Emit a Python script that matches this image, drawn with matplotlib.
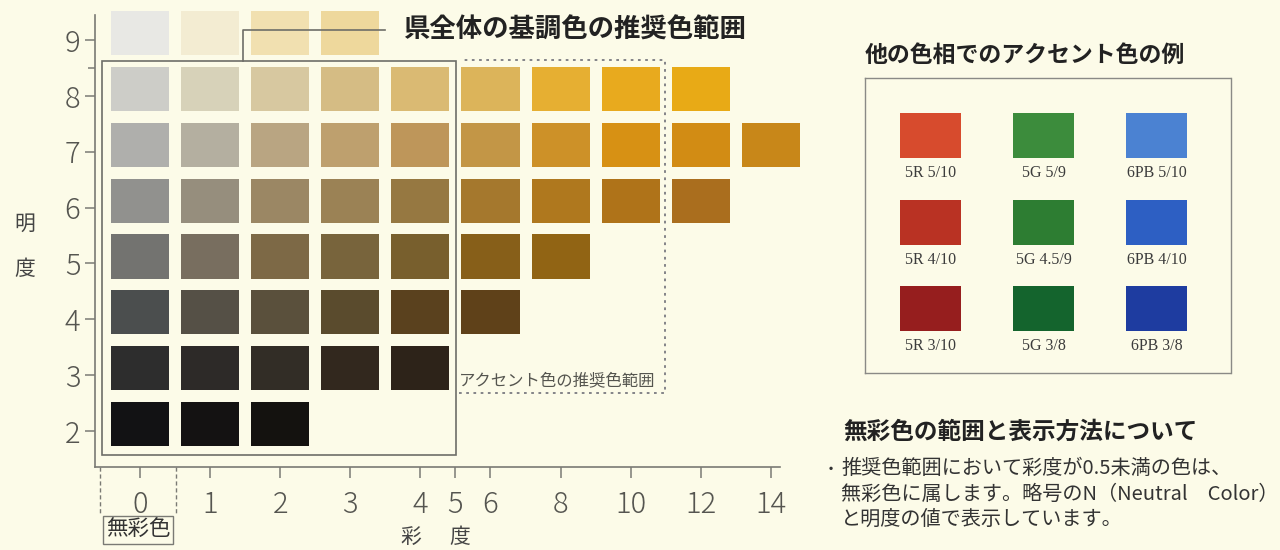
import numpy as np
import matplotlib
matplotlib.use("Agg")
import matplotlib.pyplot as plt

plt.rcParams['font.family'] = ['Noto Sans CJK JP', 'DejaVu Sans']

# 明度 (value) rows with their 彩度 (chroma) steps and swatch colours
chroma_v9 = [0, 1, 2, 3]
colors_v9 = ['#e8e8e4', '#f3ecd2', '#f1e0b0', '#eed89c']
chroma_v8 = [0, 1, 2, 3, 4, 6, 8, 10, 12]
colors_v8 = ['#cdcdc8', '#d7d2b9', '#d7c8a0', '#d5bc84', '#daba73', '#dcb45a',
             '#e6af32', '#e8aa1e', '#e8aa16']
chroma_v7 = [0, 1, 2, 3, 4, 6, 8, 10, 12, 14]
colors_v7 = ['#afafac', '#b4afa0', '#b9a582', '#bea06e', '#be965a', '#c39646',
             '#cd9128', '#d79114', '#d28c14', '#c88719']
chroma_v6 = [0, 1, 2, 3, 4, 6, 8, 10, 12]
colors_v6 = ['#91918e', '#968e7d', '#9b8764', '#9b8255', '#967841', '#a5782d',
             '#af781e', '#af7319', '#aa6e1e']
chroma_v5 = [0, 1, 2, 3, 4, 6, 8]
colors_v5 = ['#737370', '#786e5f', '#7d6946', '#78643c', '#785f2d', '#875f19',
             '#916414']
chroma_v4 = [0, 1, 2, 3, 4, 6]
colors_v4 = ['#4b4e4e', '#555046', '#5a503c', '#5a4b2d', '#5a411e', '#5f4119']
chroma_v3 = [0, 1, 2, 3, 4]
colors_v3 = ['#2d2d2d', '#2d2a28', '#322d26', '#32281e', '#2d2319']
chroma_v2 = [0, 1, 2]
colors_v2 = ['#121214', '#141212', '#14120f']

values = [9, 8, 7, 6, 5, 4, 3, 2]
row_chroma = [chroma_v9, chroma_v8, chroma_v7, chroma_v6,
              chroma_v5, chroma_v4, chroma_v3, chroma_v2]
row_colors = [colors_v9, colors_v8, colors_v7, colors_v6,
              colors_v5, colors_v4, colors_v3, colors_v2]

x_ticks = [0, 1, 2, 3, 4, 5, 6, 8, 10, 12, 14]
y_ticks = [2, 3, 4, 5, 6, 7, 8, 9]

# 他の色相でのアクセント色の例
hues = ['5R', '5G', '6PB']
accent_labels = [['5R 5/10', '5R 4/10', '5R 3/10'],
                 ['5G 5/9', '5G 4.5/9', '5G 3/8'],
                 ['6PB 5/10', '6PB 4/10', '6PB 3/8']]
accent_colors = [['#d74b2d', '#b93223', '#961e1e'],
                 ['#3c8c3c', '#2d7d32', '#14642d'],
                 ['#4b82d2', '#2d5fc3', '#1e3ca0']]

W, H = 1280, 550
BG = '#fcfbe8'
GRAY = '#6e6e68'


def chroma_to_col(c):
    # chroma steps of 1 up to 4, then steps of 2 per column
    return np.interp(c, [0, 4, 14], [0, 4, 9])


def fpos(x, y):
    return x / W, 1 - y / H


fig = plt.figure(figsize=(W / 100, H / 100), dpi=100, facecolor=BG)

ax = fig.add_axes([95 / W, (H - 467) / H, 715 / W, 462 / H])
ax.set_facecolor('none')
ax.set_xlim(-0.642, 9.558)
ax.set_ylim(1.356, 9.627)

for v, cs, cols in zip(values, row_chroma, row_colors):
    ax.bar(chroma_to_col(np.array(cs)), 0.79, width=0.83, bottom=v - 0.27,
           color=cols, linewidth=0)

for s in ['top', 'right']:
    ax.spines[s].set_visible(False)
for s in ['left', 'bottom']:
    ax.spines[s].set_color('#7a7a74')
    ax.spines[s].set_linewidth(1.2)
ax.spines['left'].set_bounds(1.356, 9.45)
ax.spines['bottom'].set_bounds(-0.642, 9.13)

ax.set_xticks(chroma_to_col(np.array(x_ticks)))
ax.set_xticklabels([str(t) for t in x_ticks])
ax.set_yticks(y_ticks)
ax.set_yticks([8.5], minor=True)
ax.tick_params(axis='both', colors='#7a7a74', labelcolor='#555550',
               labelsize=21, length=7, width=1.1)
ax.tick_params(axis='x', length=8, pad=8)
ax.tick_params(axis='y', which='minor', length=5, width=1.1, colors='#7a7a74')
for lab in ax.get_xticklabels() + ax.get_yticklabels():
    lab.set_fontweight('light')

# 基調色の推奨色範囲 (solid box) and its callout
ax.add_patch(plt.Rectangle((-0.542, 1.571), 5.05, 7.053, fill=False,
                           edgecolor=GRAY, linewidth=1.2, clip_on=False))
ax.plot([1.469, 1.469, 3.495], [8.624, 9.179, 9.179], color=GRAY,
        linewidth=1.2, clip_on=False)
fig.text(*fpos(403, 30), '県全体の基調色の推奨色範囲', fontsize=19,
         fontweight='bold', color='#222222', va='center', ha='left')

# アクセント色の推奨色範囲 (dotted box)
ax.plot([4.55, 7.49, 7.49, 4.58], [2.68, 2.68, 8.642, 8.642],
        color='#7a7a80', linewidth=1.3, linestyle=(0, (1.5, 2.5)),
        clip_on=False)
fig.text(*fpos(459, 381), 'アクセント色の推奨色範囲', fontsize=11.8,
         color='#55554f', va='center', ha='left')

# axis titles
fig.text(*fpos(25, 224), '明', fontsize=15, color='#444444', ha='center',
         va='center')
fig.text(*fpos(25, 269), '度', fontsize=15, color='#444444', ha='center',
         va='center')
fig.text(*fpos(411, 537), '彩', fontsize=15, color='#444444', ha='center',
         va='center')
fig.text(*fpos(460, 537), '度', fontsize=15, color='#444444', ha='center',
         va='center')

# 無彩色 marker under chroma 0
for xc in [-0.571, 0.514]:
    ax.plot([xc, xc], [1.356, 0.497], color='#7a7a74', linewidth=1.0,
            linestyle=(0, (3, 2)), clip_on=False)
fig.text(*fpos(138, 530), '無彩色', fontsize=15.5, color='#333333',
         ha='center', va='center',
         bbox=dict(boxstyle='square,pad=0.15', facecolor='none',
                   edgecolor='#7a7a74', linewidth=1.0))

# right panel: accent examples
fig.text(*fpos(865, 55), '他の色相でのアクセント色の例', fontsize=16.5,
         fontweight='bold', color='#222222', va='center', ha='left')
ax2 = fig.add_axes([865 / W, (H - 373) / H, 366 / W, 295 / H])
ax2.set_xlim(865, 1231)
ax2.set_ylim(373, 78)
ax2.set_facecolor('none')
ax2.set_xticks([])
ax2.set_yticks([])
for s in ax2.spines.values():
    s.set_color('#8a8a86')
    s.set_linewidth(1.0)
    s.set_linestyle((0, (1, 1)))

for j, hue in enumerate(hues):
    x0 = 900 + j * 113
    for i in range(3):
        y0 = 113 + i * 86.5
        ax2.add_patch(plt.Rectangle((x0, y0), 61, 45,
                                    facecolor=accent_colors[j][i],
                                    linewidth=0))
        ax2.text(x0 + 30.5, y0 + 60, accent_labels[j][i],
                 fontfamily='Liberation Serif', fontsize=11.5,
                 color='#3c3c3c', ha='center', va='center')

# note on achromatic colours
fig.text(*fpos(843, 432), '無彩色の範囲と表示方法について', fontsize=17,
         fontweight='bold', color='#222222', va='center', ha='left')
note = ('推奨色範囲において彩度が0.5未満の色は、\n'
        '無彩色に属します。略号のN（Neutral\u3000Color）\n'
        'と明度の値で表示しています。')
fig.text(*fpos(826, 470), '･', fontsize=14.5, color='#333333',
         va='center', ha='left')
fig.text(*fpos(841, 458), note, fontsize=14.5, color='#333333',
         va='top', ha='left', linespacing=1.28)

fig.savefig('out.png', dpi=100, facecolor=BG)
